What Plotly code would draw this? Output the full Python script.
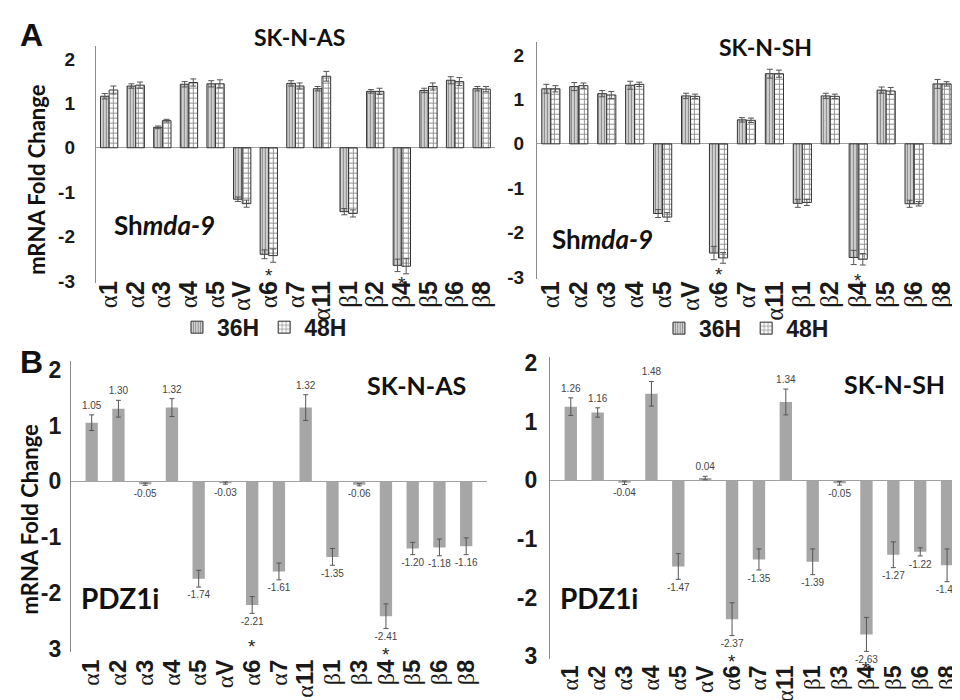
import plotly.graph_objects as go

W, H = 960, 700

# ---------------- data ----------------
cats_A = ["α1", "α2", "α3", "α4", "α5", "αV", "α6", "α7", "α11", "β1", "β2", "β4", "β5", "β6", "β8"]
cats_B = ["α1", "α2", "α3", "α4", "α5", "αV", "α6", "α7", "α11", "β1", "β3", "β4", "β5", "β6", "β8"]

# Panel A, SK-N-AS (shmda-9)
as_36 = [1.16, 1.39, 0.46, 1.43, 1.44, -1.16, -2.40, 1.45, 1.33, -1.44, 1.27, -2.65, 1.29, 1.52, 1.33]
as_36_err = [0.06, 0.05, 0.03, 0.06, 0.07, 0.05, 0.10, 0.06, 0.05, 0.07, 0.04, 0.14, 0.05, 0.08, 0.05]
as_48 = [1.30, 1.41, 0.61, 1.47, 1.44, -1.26, -2.43, 1.39, 1.61, -1.48, 1.27, -2.67, 1.38, 1.49, 1.32]
as_48_err = [0.09, 0.07, 0.03, 0.08, 0.09, 0.08, 0.15, 0.07, 0.11, 0.08, 0.07, 0.17, 0.08, 0.09, 0.06]

# Panel A, SK-N-SH (shmda-9)
sh_36 = [1.24, 1.29, 1.13, 1.32, -1.57, 1.08, -2.46, 0.54, 1.58, -1.34, 1.08, -2.56, 1.21, -1.35, 1.35]
sh_36_err = [0.10, 0.09, 0.07, 0.09, 0.09, 0.06, 0.15, 0.05, 0.10, 0.09, 0.06, 0.16, 0.07, 0.08, 0.10]
sh_48 = [1.24, 1.31, 1.10, 1.34, -1.65, 1.07, -2.57, 0.53, 1.58, -1.32, 1.07, -2.60, 1.19, -1.35, 1.35]
sh_48_err = [0.07, 0.06, 0.08, 0.05, 0.10, 0.05, 0.12, 0.05, 0.08, 0.07, 0.05, 0.13, 0.08, 0.05, 0.05]

# Panel B, PDZ1i
pdz_as = [1.05, 1.30, -0.05, 1.32, -1.74, -0.03, -2.21, -1.61, 1.32, -1.35, -0.06, -2.41, -1.20, -1.18, -1.16]
pdz_as_err = [0.14, 0.15, 0.02, 0.16, 0.15, 0.02, 0.15, 0.15, 0.23, 0.15, 0.02, 0.22, 0.11, 0.15, 0.15]
pdz_sh = [1.26, 1.16, -0.04, 1.48, -1.47, 0.04, -2.37, -1.35, 1.34, -1.39, -0.05, -2.63, -1.27, -1.22, -1.45]
pdz_sh_err = [0.15, 0.08, 0.03, 0.21, 0.22, 0.03, 0.28, 0.18, 0.22, 0.22, 0.03, 0.29, 0.22, 0.07, 0.28]

starred = ["α6", "β4"]
y_ticks = [-3, -2, -1, 0, 1, 2]
y_text_A = ["-3", "-2", "-1", "0", "1", "2"]
y_text_B = ["3", "-2", "-1", "0", "1", "2"]

range_A = [-3.05, 2.3]
range_B1 = [-3.05, 2.15]
range_B2 = [-3.05, 2.1]

# ---------------- helpers ----------------
def px(x):
    return x / W

def py(y):
    return 1 - y / H

def tick_text(cats):
    return [f"<span style='font-family:Liberation Serif;font-weight:normal'>{c[0]}</span>{c[1:]}" for c in cats]

fig = go.Figure()

GRAY_BAR = "#a6a6a6"
ERRC = "#555555"

def pat_bar(x, y, err, name, shape, bg, fg, xa, ya, legend, size):
    return go.Bar(
        x=x, y=y, name=name, xaxis=xa, yaxis=ya, legend=legend,
        marker=dict(color=bg, line=dict(color="#333333", width=1),
                    pattern=dict(shape=shape, bgcolor=bg, fgcolor=fg, size=size, solidity=0.35)),
        error_y=dict(type="data", array=err, color=ERRC, thickness=1, width=3),
        offsetgroup=name,
    )

# Panel A left
fig.add_trace(pat_bar(cats_A, as_36, as_36_err, "36H", "|", "#d0d0d0", "#404040", "x", "y", "legend", 3))
fig.add_trace(pat_bar(cats_A, as_48, as_48_err, "48H", "+", "#ffffff", "#222222", "x", "y", "legend", 5))
# Panel A right
fig.add_trace(pat_bar(cats_A, sh_36, sh_36_err, "36H", "|", "#d0d0d0", "#404040", "x2", "y2", "legend2", 3))
fig.add_trace(pat_bar(cats_A, sh_48, sh_48_err, "48H", "+", "#ffffff", "#222222", "x2", "y2", "legend2", 5))

# Panel B
def b_traces(vals, errs, xa, ya):
    fig.add_trace(go.Bar(
        x=cats_B, y=vals, xaxis=xa, yaxis=ya, showlegend=False, width=0.46,
        marker=dict(color=GRAY_BAR, line=dict(width=0)),
        error_y=dict(type="data", array=errs, color=ERRC, thickness=1, width=2.5),
    ))
    ys = [v + e + 0.06 if v >= 0 else v - e - 0.07 for v, e in zip(vals, errs)]
    pos = ["top center" if v >= 0 else "bottom center" for v in vals]
    fig.add_trace(go.Scatter(
        x=cats_B, y=ys, xaxis=xa, yaxis=ya, mode="text", showlegend=False,
        text=[f"{v:.2f}" for v in vals], textposition=pos, cliponaxis=False,
        textfont=dict(size=10, color="#444444", family="Liberation Sans Narrow, Liberation Sans"),
    ))

b_traces(pdz_as, pdz_as_err, "x3", "y3")
b_traces(pdz_sh, pdz_sh_err, "x4", "y4")

# asterisks under the significant bars (placed in axis-domain units so they are never hidden)
def stars(cats, series, errs, xr, yr, rng, pads):
    for c, pad in zip(starred, pads):
        i = cats.index(c)
        low = min(v[i] - e[i] for v, e in zip(series, errs)) - pad
        frac = (low - rng[0]) / (rng[1] - rng[0])
        fig.add_annotation(text="*", x=c, y=frac, xref=xr, yref=yr + " domain", showarrow=False,
                           xanchor="center", yanchor="middle",
                           font=dict(size=19, family="Liberation Sans", color="#222222"))

stars(cats_A, [as_36, as_48], [as_36_err, as_48_err], "x", "y", range_A, [0.30, 0.22])
stars(cats_A, [sh_36, sh_48], [sh_36_err, sh_48_err], "x2", "y2", range_A, [0.26, 0.34])
stars(cats_B, [pdz_as], [pdz_as_err], "x3", "y3", range_B1, [0.59, 0.47])
stars(cats_B, [pdz_sh], [pdz_sh_err], "x4", "y4", range_B2, [0.44, 0.30])

# ---------------- axes ----------------
def xaxis(dom, cats, anchor, fsize, standoff):
    return dict(domain=dom, anchor=anchor, type="category", categoryorder="array", categoryarray=cats,
                tickvals=cats, ticktext=tick_text(cats), tickangle=-90,
                tickfont=dict(family="Liberation Sans", size=fsize, color="#1a1a1a", weight="bold"),
                showline=False, showgrid=False, zeroline=False,
                ticks="", ticklabelstandoff=standoff)

def yaxis(dom, rng, anchor, texts, fsize, standoff):
    return dict(domain=dom, anchor=anchor, range=rng, tickvals=y_ticks, ticktext=texts,
                tickfont=dict(family="Liberation Sans", size=fsize, color="#1a1a1a", weight="bold"),
                showline=True, linecolor="#8a8a8a", linewidth=1, showgrid=False,
                zeroline=True, zerolinecolor="#a0a0a0", zerolinewidth=1,
                ticks="outside", ticklen=standoff, tickcolor="rgba(0,0,0,0)")

legend_font = dict(family="Liberation Sans", size=23, color="#1a1a1a", weight="bold")

fig.update_layout(
    width=W, height=H, margin=dict(l=0, r=0, t=0, b=0),
    paper_bgcolor="white", plot_bgcolor="white",
    barmode="group", bargap=0.35, bargroupgap=0.0,
    xaxis=xaxis([px(86), px(486)], cats_A, "y", 25, -8),
    yaxis=yaxis([py(274.8), py(31.4)], range_A, "x", y_text_A, 19, 16),
    xaxis2=xaxis([px(528), px(948)], cats_A, "y2", 25, -4),
    yaxis2=yaxis([py(270.8), py(27.4)], range_A, "x2", y_text_A, 19, 8),
    xaxis3=xaxis([px(61), px(478)], cats_B, "y3", 24, 2),
    yaxis3=yaxis([py(652.8), py(354.8)], range_B1, "x3", y_text_B, 23, 4),
    xaxis4=xaxis([px(541), 1.0], cats_B, "y4", 23, 1),
    yaxis4=yaxis([py(660), py(351)], range_B2, "x4", y_text_B, 23, 7),
    legend=dict(x=px(255), y=py(320), xanchor="center", yanchor="middle", orientation="h",
                font=legend_font, bgcolor="rgba(0,0,0,0)", itemwidth=30),
    legend2=dict(x=px(738), y=py(321), xanchor="center", yanchor="middle", orientation="h",
                 font=legend_font, bgcolor="rgba(0,0,0,0)", itemwidth=30),
)

# ---------------- annotations ----------------
def ann(text, x, y, size, family="Lato", weight="bold", angle=0, color="#111111"):
    fig.add_annotation(text=text, x=x, y=y, xref="paper", yref="paper", showarrow=False,
                       textangle=angle, xanchor="center", yanchor="middle",
                       font=dict(size=size, family=family, color=color, weight=weight))

ann("A", px(22), py(20), 32, family="Liberation Sans")
ann("B", px(22), py(356), 32, family="Liberation Sans")
ann("SK-N-AS", px(290), py(23), 23)
ann("SK-N-SH", px(757), py(33), 23)
ann("SK-N-AS", px(407), py(379), 25)
ann("SK-N-SH", px(886), py(378), 25)
ann("mRNA Fold Change", px(27), py(168), 22, angle=-90)
ann("mRNA Fold Change", px(20), py(516), 22, angle=-90)
ann("Sh<i>mda-9</i>", px(155), py(215), 26)
ann("Sh<i>mda-9</i>", px(594), py(230), 26)
ann("PDZ1i", px(110), py(598), 28)
ann("PDZ1i", px(590), py(598), 28)

fig.write_html("out.html")
